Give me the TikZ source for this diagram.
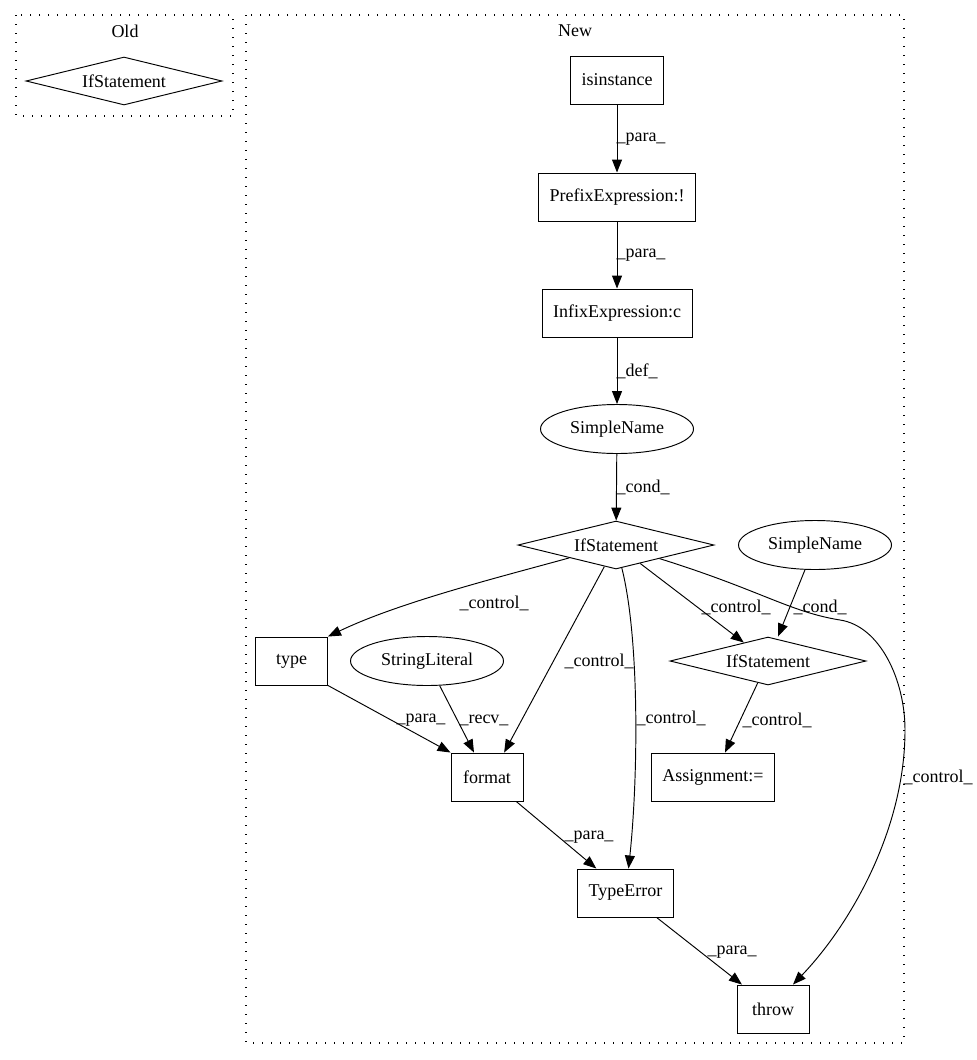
\documentclass[tikz,border=0pt]{standalone}
\usepackage{fontspec}
\setmainfont{Liberation Serif}
\usetikzlibrary{shapes.geometric,arrows.meta,calc}
\begin{document}
\begin{tikzpicture}[x=1pt,y=-1pt,
  every node/.style={font=\fontsize{18}{20}\selectfont},
  box/.style={draw,rectangle,line width=0.95pt,minimum width=72pt,minimum height=48pt,inner xsep=11pt},
  dia/.style={draw,diamond,aspect=4,line width=0.95pt,minimum width=196pt,minimum height=48pt,inner sep=0pt},
  ell/.style={draw,ellipse,line width=0.95pt,minimum width=153pt,minimum height=49pt,inner sep=0pt},
  cluster/.style={draw,line width=1.1pt,dash pattern=on 1.4pt off 7.6pt},
  conn/.style={draw,line width=0.95pt,-{Triangle[length=13pt,width=10pt]}},
  lbl/.style={inner sep=0pt}
]
\useasboundingbox (0,0) rectangle (977,1060);
% clusters
\draw[cluster] (16,15) rectangle (233,116);
\node[lbl] (oldlabel) at (125,31) {Old};
\draw[cluster] (246,15) rectangle (904,1043);
\node[lbl] (newlabel) at (575,31) {New};
% old
\node[dia] (oldifs) at (124,81) {IfStatement};
% new nodes
\node[box] (isin) at (617,80) {isinstance};
\node[box] (pre) at (617,197) {PrefixExpression:!};
\node[box] (inf) at (617,313) {InfixExpression:c};
\node[ell] (sn1) at (617,429) {SimpleName};
\node[dia] (ifs) at (616,545) {IfStatement};
\node[ell] (sn2) at (815,545) {SimpleName};
\node[box] (type) at (291.5,661) {type};
\node[ell] (sl) at (427,661) {StringLiteral};
\node[dia] (ifs2) at (768,661) {IfStatement};
\node[box] (format) at (487,777) {format};
\node[box] (assign) at (713,777) {Assignment:=};
\node[box] (te) at (625.5,893) {TypeError};
\node[box] (throw) at (773,1009) {throw};
% edges
\draw[conn] (isin) -- (pre);
\draw[conn] (pre) -- (inf);
\draw[conn] (inf) -- (sn1);
\draw[conn] (sn1) -- (ifs);
\draw[conn] (ifs) .. controls (500,577) and (400,602) .. (type.north east);
\draw[conn] (ifs) -- (format.55);
\draw[conn] (sl) -- (format.118);
\draw[conn] (type.south east) -- (format.north west);
\draw[conn] (ifs) -- (ifs2);
\draw[conn] (sn2) -- ($(ifs2.north)+(10,0)$);
\draw[conn] (ifs2) -- ($(assign.north)+(12,0)$);
\draw[conn] (format) -- (te);
\draw[conn] (te) -- (throw);
\draw[conn] (ifs) .. controls (640,640) and (638,780) .. ($(te.north)+(3,0)$);
\draw[conn] (ifs) .. controls (760,590) and (790,612) .. (840,620)
  .. controls (880,626) and (905,680) .. (905,730)
  .. controls (905,830) and (850,925) .. ($(throw.north)+(20,0)$);
% labels
\node[lbl] (l1) at (641,139) {\_para\_};
\node[lbl] (l2) at (641,255) {\_para\_};
\node[lbl] (l3) at (637,371) {\_def\_};
\node[lbl] (l4) at (643,487) {\_cond\_};
\node[lbl] (l5) at (494,603) {\_control\_};
\node[lbl] (l6) at (599,661) {\_control\_};
\node[lbl] (l7) at (671,718) {\_control\_};
\node[lbl] (l8) at (736,607) {\_control\_};
\node[lbl] (l9) at (820,607) {\_cond\_};
\node[lbl] (l10) at (777,720) {\_control\_};
\node[lbl] (l11) at (421,720) {\_para\_};
\node[lbl] (l12) at (484,720) {\_recv\_};
\node[lbl] (l13) at (589,837) {\_para\_};
\node[lbl] (l14) at (732,952) {\_para\_};
\node[lbl] (l15) at (938,777) {\_control\_};
\end{tikzpicture}
\end{document}
